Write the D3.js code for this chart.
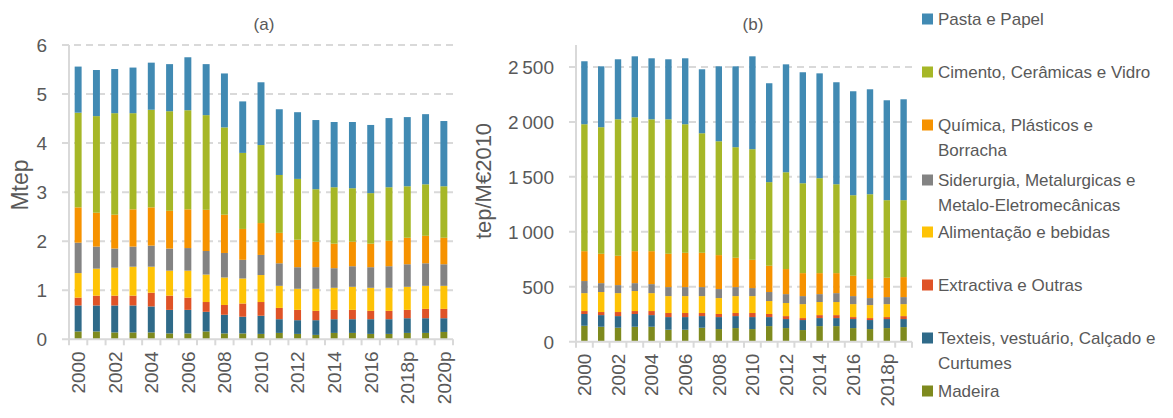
<!DOCTYPE html>
<html><head><meta charset="utf-8">
<script src="https://cdn.jsdelivr.net/npm/d3@7"></script>
<style>
html,body{margin:0;padding:0;background:#fff;}
svg{display:block;font-family:"Liberation Sans",Arial,sans-serif;}
</style></head>
<body>
<svg id="chart" width="1173" height="418"></svg>
<script>
// ---------- DATA ----------
const seriesNames = ["Madeira","Texteis, vestuário, Calçado e Curtumes","Extractiva e Outras","Alimentação e bebidas","Siderurgia, Metalurgicas e Metalo-Eletromecânicas","Química, Plásticos e Borracha","Cimento, Cerâmicas e Vidro","Pasta e Papel"];
const seriesColors = ["#7e8a1e","#2f6a89","#df5327","#fec306","#838383","#f69200","#a6b727","#418ab3"];

const yearsA = ["2000","2001","2002","2003","2004","2005","2006","2007","2008","2009","2010","2011","2012","2013","2014","2015","2016","2017","2018p","2019p","2020p"];
const tickLabelsA = ["2000","2002","2004","2006","2008","2010","2012","2014","2016","2018p","2020p"];
// Mtep, per sector (panel a)
const madeiraA    = [0.16,0.16,0.14,0.14,0.14,0.12,0.12,0.16,0.12,0.12,0.11,0.13,0.11,0.09,0.13,0.13,0.11,0.11,0.13,0.13,0.15];
const texteisA    = [0.53,0.53,0.55,0.55,0.53,0.48,0.48,0.40,0.38,0.34,0.37,0.28,0.28,0.30,0.28,0.28,0.30,0.30,0.30,0.30,0.28];
const extractivaA = [0.16,0.20,0.20,0.20,0.28,0.29,0.25,0.20,0.20,0.27,0.28,0.23,0.21,0.19,0.19,0.19,0.17,0.17,0.17,0.19,0.19];
const alimentA    = [0.50,0.55,0.57,0.59,0.53,0.51,0.55,0.56,0.56,0.51,0.55,0.45,0.43,0.45,0.45,0.47,0.47,0.47,0.47,0.47,0.47];
const siderA      = [0.62,0.45,0.39,0.41,0.43,0.45,0.46,0.48,0.50,0.38,0.41,0.46,0.44,0.44,0.40,0.42,0.42,0.44,0.46,0.46,0.44];
const quimicaA    = [0.72,0.69,0.69,0.76,0.78,0.77,0.79,0.84,0.78,0.63,0.65,0.62,0.56,0.52,0.50,0.50,0.48,0.52,0.54,0.56,0.54];
const cimentoA    = [1.93,1.97,2.07,1.96,1.99,2.03,2.02,1.93,1.78,1.55,1.59,1.18,1.24,1.07,1.15,1.09,1.03,1.09,1.05,1.05,1.05];
const pastaA      = [0.94,0.94,0.90,0.93,0.96,0.96,1.08,1.04,1.10,1.05,1.28,1.34,1.36,1.41,1.33,1.35,1.39,1.41,1.41,1.43,1.33];

const yearsB = ["2000","2001","2002","2003","2004","2005","2006","2007","2008","2009","2010","2011","2012","2013","2014","2015","2016","2017","2018p","2019p"];
const tickLabelsB = ["2000","2002","2004","2006","2008","2010","2012","2014","2016","2018p"];
// tep/M€2010, per sector (panel b)
const madeiraB    = [145,136,127,136,136,109,109,127,115,124,115,142,124,106,142,142,124,115,124,133];
const texteisB    = [107,106,106,116,106,115,115,106,109,109,109, 82, 82, 91, 73, 73, 82, 82, 82, 73];
const extractivaB = [ 27, 28, 37, 27, 37, 37, 37, 28, 28, 28, 37, 28, 27, 18, 27, 27, 18, 18, 18, 27];
const alimentB    = [163,182,172,182,163,154,154,154,145,154,154,118,119,127,119,119,118,118,118,109];
const siderB      = [110, 81, 73, 72, 82, 82, 82, 82, 82, 82, 73, 82, 81, 73, 72, 81, 73, 64, 64, 64];
const quimicaB    = [272,267,267,291,300,303,312,312,309,267,257,239,228,209,191,182,185,173,176,182];
const cimentoB    = [1155,1152,1242,1218,1200,1224,1170,1088,1036,1006,1007,761,881,818,864,809,733,772,706,700];
const pastaB      = [573,554,546,555,555,546,600,582,682,736,845,900,982,1010,954,928,946,955,909,918];

const ticksA = [0,1,2,3,4,5,6];
const ticksB = [0,500,1000,1500,2000,2500];

// legend order (top to bottom) and line breaks
const legendLines = [
  ["Pasta e Papel"],
  ["Cimento, Cerâmicas e Vidro"],
  ["Química, Plásticos e","Borracha"],
  ["Siderurgia, Metalurgicas e","Metalo-Eletromecânicas"],
  ["Alimentação e bebidas"],
  ["Extractiva e Outras"],
  ["Texteis, vestuário, Calçado e","Curtumes"],
  ["Madeira"]
];

// ---------- BUILD ----------
const svg = d3.select("#chart");
const txt = "#595959", grid = "#d9d9d9";
const fmtB = d3.formatLocale({decimal:",", thousands:"\u2009", grouping:[3], currency:["","€"]}).format(",d");

function tableFrom(years, arrays){
  return years.map((y,i)=>{const o={year:y}; seriesNames.forEach((k,j)=>o[k]=arrays[j][i]); return o;});
}
const dataA = tableFrom(yearsA,[madeiraA,texteisA,extractivaA,alimentA,siderA,quimicaA,cimentoA,pastaA]);
const dataB = tableFrom(yearsB,[madeiraB,texteisB,extractivaB,alimentB,siderB,quimicaB,cimentoB,pastaB]);

function panel(cfg){
  const x = d3.scaleBand().domain(cfg.years).range(cfg.xr).paddingInner(0.62).paddingOuter(0.31);
  const y = d3.scaleLinear().domain(cfg.yd).range(cfg.yr);
  const g = svg.append("g");
  const x0 = cfg.xr[0], x1 = cfg.xr[1];
  // gridlines
  g.selectAll(".grid").data(cfg.ticks.filter(t=>t>0)).join("line")
    .attr("x1",x0-7).attr("x2",x1).attr("y1",d=>y(d)).attr("y2",d=>y(d))
    .attr("stroke",grid).attr("stroke-width",2).attr("stroke-dasharray","7,5");
  // y axis line
  g.append("line").attr("x1",x0).attr("x2",x0).attr("y1",y(0)).attr("y2",y(cfg.yd[1]))
    .attr("stroke",grid).attr("stroke-width",2);
  // bars
  const stack = d3.stack().keys(seriesNames)(cfg.data);
  g.selectAll(".s").data(stack).join("g").attr("fill",(d,i)=>seriesColors[i])
    .selectAll("rect").data(d=>d).join("rect")
    .attr("x",d=>x(d.data.year)).attr("width",x.bandwidth())
    .attr("y",d=>y(d[1])).attr("height",d=>y(d[0])-y(d[1]));
  // x axis line + ticks
  g.append("line").attr("x1",x0-7).attr("x2",x1).attr("y1",y(0)).attr("y2",y(0))
    .attr("stroke",grid).attr("stroke-width",2);
  const step = x.step();
  g.selectAll(".xt").data(d3.range(cfg.years.length+1)).join("line")
    .attr("x1",i=>x0+i*step).attr("x2",i=>x0+i*step).attr("y1",y(0)).attr("y2",y(0)+6)
    .attr("stroke",grid).attr("stroke-width",2);
  // x labels
  g.selectAll(".xl").data(cfg.xlabels).join("text")
    .attr("transform",d=>`translate(${x(d)+x.bandwidth()/2},${y(0)+12}) rotate(-90)`)
    .attr("text-anchor","end").attr("dy","0.36em")
    .attr("fill",txt).attr("font-size",19).text(d=>d);
  // y labels
  g.selectAll(".yl").data(cfg.ticks).join("text")
    .attr("x",x0-22).attr("y",d=>y(d)).attr("dy","0.36em").attr("text-anchor","end")
    .attr("fill",txt).attr("font-size",19).text(cfg.fmt);
  // axis title
  g.append("text").attr("transform",`translate(${cfg.ytx},${cfg.yty}) rotate(-90)`)
    .attr("text-anchor","middle").attr("dy","0.36em").attr("fill",txt).attr("font-size",cfg.ytfs).text(cfg.ytitle);
  // panel title
  g.append("text").attr("x",cfg.tx).attr("y",30).attr("text-anchor","middle")
    .attr("fill",txt).attr("font-size",17).text(cfg.title);
}

panel({years:yearsA, data:dataA, xr:[69,453], yd:[0,6], yr:[339.3,45], ticks:ticksA, xlabels:tickLabelsA,
  fmt:d=>d, ytitle:"Mtep", ytx:20, yty:185, ytfs:23, title:"(a)", tx:264});
panel({years:yearsB, data:dataB, xr:[576,912], yd:[0,2700], yr:[341.7,45], ticks:ticksB, xlabels:tickLabelsB,
  fmt:fmtB, ytitle:"tep/M€2010", ytx:483, yty:181, ytfs:22, title:"(b)", tx:753});

// legend
const legendY = [19,72,125,180,232,285,338,391];
const lg = svg.append("g");
legendLines.forEach((lines,i)=>{
  const color = seriesColors[seriesNames.length-1-i];
  lg.append("rect").attr("x",922).attr("y",legendY[i]-5.5).attr("width",11).attr("height",11).attr("fill",color);
  lines.forEach((t,j)=>{
    lg.append("text").attr("x",938).attr("y",legendY[i]+j*24.5).attr("dy","0.36em")
      .attr("fill",txt).attr("font-size",17).text(t);
  });
});
</script>
</body></html>
